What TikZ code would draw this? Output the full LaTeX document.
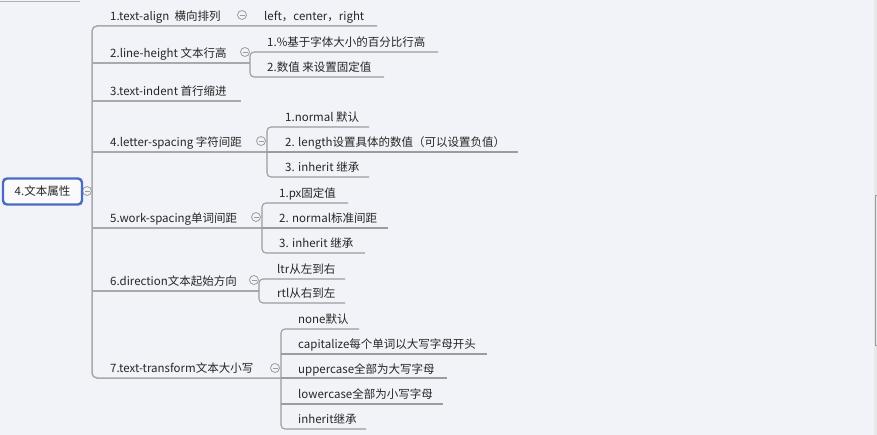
\documentclass[tikz,border=0pt]{standalone}
\usepackage{fontspec}
\setmainfont{Noto Sans CJK SC}
\definecolor{bg}{HTML}{F2F3F8}
\definecolor{mainln}{HTML}{A9A9A9}
\definecolor{subln}{HTML}{9C9C9C}
\definecolor{txt}{HTML}{262626}
\definecolor{rootblue}{HTML}{4A6BC2}
\definecolor{strip}{HTML}{E8E8EB}
\begin{document}
\begin{tikzpicture}[x=1pt,y=-1pt,
  topic/.style={anchor=base west, inner sep=0pt, text=txt, font=\fontsize{11.5}{14}\selectfont},
  mainline/.style={draw=mainln, line width=1.5pt, rounded corners=5pt},
  subline/.style={draw=subln, line width=1.1pt, rounded corners=4pt},
  fold/.style={circle, draw=subln, fill=bg, line width=0.8pt, minimum size=9pt, inner sep=0pt,
    path picture={\draw[subln, line width=0.8pt] ([xshift=-2.5pt]path picture bounding box.center) -- ([xshift=2.5pt]path picture bounding box.center);}},
  rootbox/.style={draw=rootblue, line width=2.4pt, rounded corners=4pt, fill=bg!40!white,
    minimum width=79pt, minimum height=26pt, inner sep=0pt, text=txt, font=\fontsize{11.5}{14}\selectfont},
]
\fill[bg] (0,0) rectangle (877,435);
\useasboundingbox (0,0) rectangle (877,435);
% window details
\fill[strip] (874,0) rectangle (877,435);
\draw[subln, line width=0.8pt] (877,195) -- (875,195) -- (875,345) -- (877,345);
\draw[subln!80, line width=0.8pt] (0,1) -- (80,1);

% coordinates: main trunk
\coordinate (e1) at (377,26);
\coordinate (T1) at (92,26);
\coordinate (T7) at (92,378);
\coordinate (B0) at (92,191);
\coordinate (B2) at (92,63);   \coordinate (J2) at (250,63);
\coordinate (B3) at (92,101);  \coordinate (J3) at (241,101);
\coordinate (B4) at (92,152);  \coordinate (J4) at (267,152);
\coordinate (B5) at (92,228);  \coordinate (J5) at (262,228);
\coordinate (B6) at (92,291);  \coordinate (J6) at (259,291);
\coordinate (J7) at (281,378);
% sub trunks
\coordinate (s2a) at (438,52); \coordinate (s2t) at (250,52); \coordinate (s2b) at (250,77); \coordinate (s2c) at (384,77);
\coordinate (s4a) at (369,127); \coordinate (s4t) at (267,127); \coordinate (s4b) at (267,177); \coordinate (s4c) at (369,177); \coordinate (s4m) at (518,152);
\coordinate (s5a) at (348,203); \coordinate (s5t) at (262,203); \coordinate (s5b) at (262,253); \coordinate (s5c) at (365,253); \coordinate (s5m) at (388,228);
\coordinate (s6a) at (345,279); \coordinate (s6t) at (259,279); \coordinate (s6b) at (259,303); \coordinate (s6c) at (345,303);
\coordinate (s7a) at (359,329); \coordinate (s7t) at (281,329); \coordinate (s7b) at (281,429); \coordinate (s7c) at (366,429);
\coordinate (s7p) at (281,354); \coordinate (s7pe) at (487,354);
\coordinate (s7ue) at (447,378);
\coordinate (s7q) at (281,404); \coordinate (s7qe) at (443,404);

% main lines
\draw[mainline] (e1) -- (T1) -- (T7) -- (J7);
\draw[mainline] (B2) -- (J2);
\draw[mainline] (B3) -- (J3);
\draw[mainline] (B4) -- (J4);
\draw[mainline] (B5) -- (J5);
\draw[mainline] (B6) -- (J6);
% sub lines
\draw[subline] (s2a) -- (s2t) -- (s2b) -- (s2c);
\draw[subline] (s4a) -- (s4t) -- (s4b) -- (s4c);
\draw[subline] (J4) -- (s4m);
\draw[subline] (s5a) -- (s5t) -- (s5b) -- (s5c);
\draw[subline] (J5) -- (s5m);
\draw[subline] (s6a) -- (s6t) -- (s6b) -- (s6c);
\draw[subline] (s7a) -- (s7t) -- (s7b) -- (s7c);
\draw[subline] (s7p) -- (s7pe);
\draw[subline] (J7) -- (s7ue);
\draw[subline] (s7q) -- (s7qe);

% topics
\node[topic] (t1) at (110,20.5) {1.text-align\ \ 横向排列};
\node[topic] (t1a) at (264,20.5) {left，center，right};
\node[topic] (t2) at (110,57.5) {2.line-height 文本行高};
\node[topic] (t2a) at (267,46.5) {1.\%基于字体大小的百分比行高};
\node[topic] (t2b) at (267,71.5) {2.数值 来设置固定值};
\node[topic] (t3) at (110,95.5) {3.text-indent 首行缩进};
\node[topic] (t4) at (110,146.5) {4.letter-spacing 字符间距};
\node[topic] (t4a) at (285,121.5) {1.normal 默认};
\node[topic] (t4b) at (285,146.5) {2. length设置具体的数值（可以设置负值）};
\node[topic] (t4c) at (285,171.5) {3. inherit 继承};
\node[topic] (t5) at (110,222.5) {5.work-spacing单词间距};
\node[topic] (t5a) at (279,197.5) {1.px固定值};
\node[topic] (t5b) at (279,222.5) {2. normal标准间距};
\node[topic] (t5c) at (279,247.5) {3. inherit 继承};
\node[topic] (t6) at (110,285.5) {6.direction文本起始方向};
\node[topic] (t6a) at (277,273.5) {ltr从左到右};
\node[topic] (t6b) at (277,297.5) {rtl从右到左};
\node[topic] (t7) at (110,372.5) {7.text-transform文本大小写};
\node[topic] (t7a) at (298,323.5) {none默认};
\node[topic] (t7b) at (298,348.5) {capitalize每个单词以大写字母开头};
\node[topic] (t7c) at (298,373.5) {uppercase全部为大写字母};
\node[topic] (t7d) at (298,398.5) {lowercase全部为小写字母};
\node[topic] (t7e) at (298,423.5) {inherit继承};

% fold markers
\node[fold] (f1) at (242,15) {};
\node[fold] (f2) at (245,52) {};
\node[fold] (f4) at (261,141) {};
\node[fold] (f5) at (256,217) {};
\node[fold] (f6) at (254,280) {};
\node[fold] (f7) at (275,368) {};
\node[fold] (f0) at (87,191) {};

% root
\node[rootbox] (root) at (42.5,191.5) {4.文本属性};
\draw[mainline] (f0.east) -- (B0);
\end{tikzpicture}
\end{document}
